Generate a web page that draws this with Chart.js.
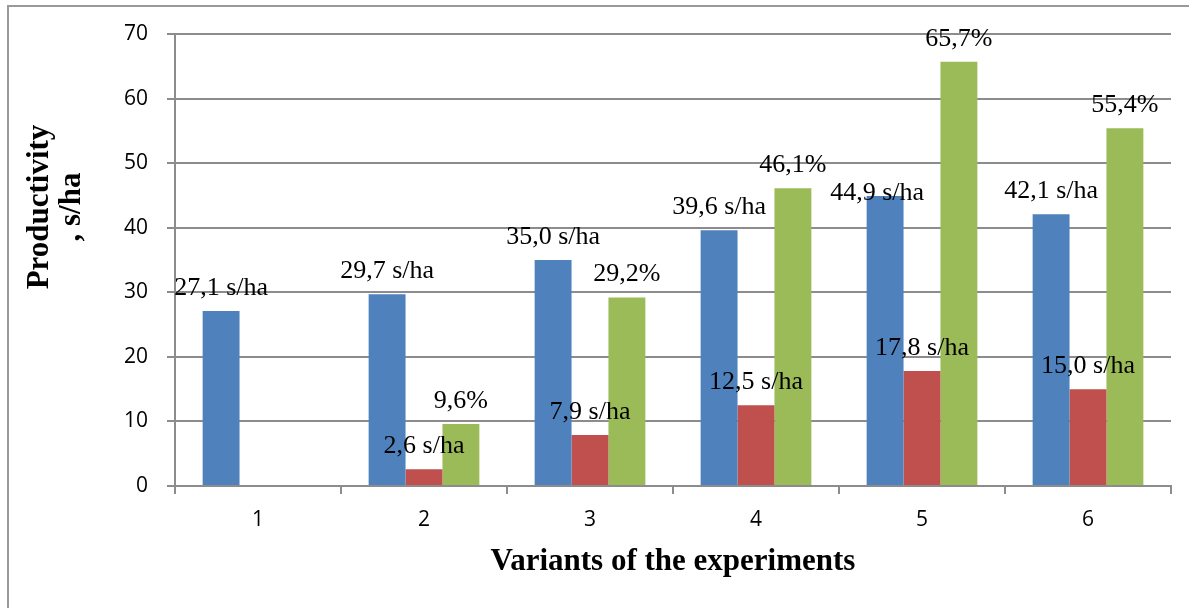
<!DOCTYPE html>
<html>
<head>
<meta charset="utf-8">
<title>Productivity by variants</title>
<script src="https://cdn.jsdelivr.net/npm/chart.js@4.4.1/dist/chart.umd.min.js"></script>
<style>
  html, body { margin: 0; padding: 0; background: #fff; }
  #wrap { position: relative; width: 1189px; height: 608px; overflow: hidden; }
  #frame { position: absolute; left: 7px; top: 5px; width: 1300px; height: 700px;
           border-left: 2px solid #9a9a9a; border-top: 2px solid #9a9a9a; }
  #chart { position: absolute; left: 0; top: 0; }
</style>
</head>
<body>
<div id="wrap">
  <div id="frame"></div>
  <canvas id="chart" width="1189" height="608"></canvas>
</div>
<script>
// variants of the experiment
const variants = ['1', '2', '3', '4', '5', '6'];
// productivity, s/ha
const productivity = [27.1, 29.7, 35.0, 39.6, 44.9, 42.1];
// increase over control, s/ha
const increase = [null, 2.6, 7.9, 12.5, 17.8, 15.0];
// increase over control, %
const increasePct = [null, 9.6, 29.2, 46.1, 65.7, 55.4];
const yTicks = [0, 10, 20, 30, 40, 50, 60, 70];

const suffixes = [' s/ha', ' s/ha', '%'];
const gridColor = '#8c8c8c';
const tickFont = { family: '"Open Sans", sans-serif', size: 21 };

// draws the value labels above bars (Excel style, comma decimals)
const valueLabels = {
  id: 'valueLabels',
  afterDatasetsDraw(chart) {
    const ctx = chart.ctx;
    const nudge = { '0-4': [-8, 20] }; // one label was moved by hand in the original
    ctx.save();
    ctx.font = '26px "Liberation Serif", "Times New Roman", serif';
    ctx.fillStyle = '#000';
    ctx.textAlign = 'center';
    ctx.textBaseline = 'alphabetic';
    chart.data.datasets.forEach((ds, di) => {
      const meta = chart.getDatasetMeta(di);
      meta.data.forEach((bar, i) => {
        const v = ds.data[i];
        if (v === null || v === undefined) return;
        const txt = v.toFixed(1).replace('.', ',') + suffixes[di];
        const n = nudge[di + '-' + i] || [0, 0];
        ctx.fillText(txt, bar.x + n[0], bar.y - 16 + n[1]);
      });
    });
    ctx.restore();
  }
};

// y axis title, two lines, rotated
const yTitle = {
  id: 'yTitle',
  afterDraw(chart) {
    const ctx = chart.ctx;
    const a = chart.chartArea;
    const cy = (a.top + a.bottom) / 2 - 53;
    ctx.save();
    ctx.font = 'bold 31px "Liberation Serif", "Times New Roman", serif';
    ctx.fillStyle = '#000';
    ctx.textAlign = 'center';
    ctx.textBaseline = 'middle';
    [['Productivity', a.left - 135], [', s/ha', a.left - 103]].forEach(([t, x]) => {
      ctx.save();
      ctx.translate(x, cy);
      ctx.rotate(-Math.PI / 2);
      ctx.fillText(t, 0, 0);
      ctx.restore();
    });
    ctx.restore();
  }
};

new Chart(document.getElementById('chart').getContext('2d'), {
  type: 'bar',
  data: {
    labels: variants,
    datasets: [
      { label: 'Productivity, s/ha', data: productivity, backgroundColor: '#4f81bd' },
      { label: 'Increase, s/ha', data: increase, backgroundColor: '#c0504d' },
      { label: 'Increase, %', data: increasePct, backgroundColor: '#9bbb59' }
    ]
  },
  options: {
    responsive: false,
    animation: false,
    categoryPercentage: 0.667,
    barPercentage: 1.0,
    layout: { padding: { top: 34, right: 18, bottom: 0, left: 0 } },
    plugins: {
      legend: { display: false },
      tooltip: { enabled: false }
    },
    scales: {
      x: {
        grid: { drawOnChartArea: false, drawTicks: true, tickLength: 8, color: gridColor, lineWidth: 2 },
        border: { display: true, color: gridColor, width: 2 },
        ticks: { color: '#000', font: tickFont, padding: 13 },
        title: {
          display: true,
          text: 'Variants of the experiments',
          color: '#000',
          font: { family: '"Liberation Serif", "Times New Roman", serif', size: 31, weight: 'bold' },
          padding: { top: 0, bottom: 27 }
        },
        afterFit(scale) { scale.height = 122; }
      },
      y: {
        min: 0,
        max: 70,
        afterBuildTicks(scale) { scale.ticks = yTicks.map(v => ({ value: v })); },
        grid: { drawTicks: true, tickLength: 8, color: gridColor, lineWidth: 2 },
        border: { display: true, color: gridColor, width: 2 },
        ticks: { color: '#000', font: tickFont, padding: 19 },
        afterFit(scale) { scale.width = 175; }
      }
    }
  },
  plugins: [valueLabels, yTitle]
});
</script>
</body>
</html>
